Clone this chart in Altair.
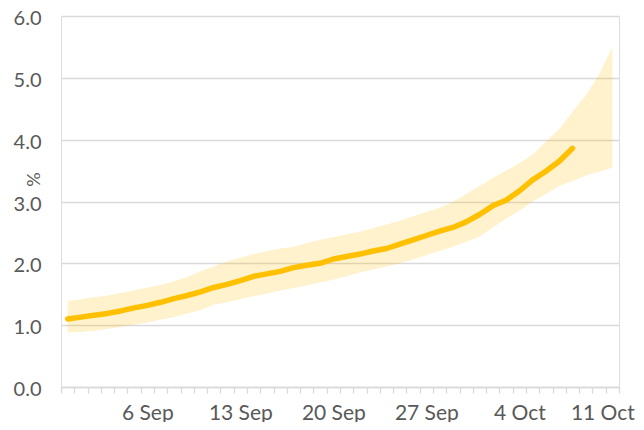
import altair as alt
import pandas as pd

start_day = "2020-08-31"

central = [1.10, 1.13, 1.16, 1.19, 1.23, 1.28, 1.32, 1.37, 1.43, 1.48,
           1.54, 1.61, 1.66, 1.72, 1.79, 1.83, 1.87, 1.93, 1.97, 2.00,
           2.07, 2.11, 2.15, 2.20, 2.24, 2.31, 2.38, 2.45, 2.52, 2.58,
           2.67, 2.79, 2.93, 3.02, 3.17, 3.35, 3.49, 3.65, 3.86]

upper = [1.39, 1.42, 1.45, 1.48, 1.52, 1.56, 1.61, 1.65, 1.71, 1.78,
         1.87, 1.95, 2.03, 2.09, 2.15, 2.20, 2.24, 2.27, 2.33, 2.38,
         2.42, 2.47, 2.51, 2.57, 2.63, 2.69, 2.76, 2.83, 2.90, 2.99,
         3.12, 3.25, 3.38, 3.50, 3.62, 3.76, 3.97, 4.17, 4.45, 4.72,
         5.05, 5.50]

lower = [0.88, 0.89, 0.91, 0.94, 0.97, 1.01, 1.04, 1.09, 1.13, 1.19,
         1.24, 1.33, 1.37, 1.42, 1.47, 1.51, 1.56, 1.60, 1.64, 1.69,
         1.74, 1.79, 1.85, 1.90, 1.95, 2.00, 2.06, 2.13, 2.20, 2.27,
         2.35, 2.43, 2.58, 2.72, 2.85, 3.00, 3.12, 3.25, 3.33, 3.42,
         3.48, 3.55]

label_days = ["2020-09-06", "2020-09-13", "2020-09-20",
              "2020-09-27", "2020-10-04", "2020-10-11"]
y_ticks = [0, 1, 2, 3, 4, 5, 6]


def ms(ts):
    t = pd.Timestamp(ts)
    if t.tzinfo is None:
        t = t.tz_localize("UTC")
    return int(t.value // 10**6)


dates = pd.date_range(start_day, periods=len(upper), freq="D", tz="UTC")
half = pd.Timedelta(hours=12)
boundaries = [ms(d - half) for d in dates] + [ms(dates[-1] + half)]
label_vals = [ms(d) for d in label_days]

band_df = pd.DataFrame({"t": [ms(d) for d in dates], "lo": lower, "hi": upper})
line_df = pd.DataFrame({"t": [ms(d) for d in dates[:len(central)]], "v": central})

GOLD = "#FFC000"
GRID = "#D9D9D9"
TXT = "#595959"

xscale = alt.Scale(type="utc", domain=[boundaries[0], boundaries[-1]])

band = alt.Chart(band_df).mark_area(color=GOLD, opacity=0.2).encode(
    x=alt.X("t:T", scale=xscale,
            axis=alt.Axis(orient="bottom", values=boundaries, labels=False,
                          ticks=True, tickSize=6, tickColor=GRID, tickWidth=1.3,
                          domain=True, domainColor=GRID, domainWidth=1.3,
                          grid=False, title=None)),
    y=alt.Y("lo:Q", scale=alt.Scale(domain=[0, 6], nice=False),
            axis=alt.Axis(values=y_ticks, format=".1f", grid=True,
                          gridColor=GRID, gridWidth=1.3, ticks=False,
                          domain=False, labelPadding=20, labelFontSize=20,
                          labelOffset=2.5,
                          labelColor=TXT, labelFont="Lato",
                          title="%", titleFontSize=18, titleColor=TXT,
                          titleFontWeight="normal", titleFont="Lato",
                          titleX=-27, titleY=163, titleAngle=270,
                          titleAlign="center", titleBaseline="middle")),
    y2="hi:Q",
)

line = alt.Chart(line_df).mark_line(color=GOLD, strokeWidth=5.5,
                                    strokeCap="round", strokeJoin="round").encode(
    x=alt.X("t:T", scale=xscale,
            axis=alt.Axis(orient="bottom", values=label_vals,
                          labelExpr="utcFormat(datum.value, '%-d %b')",
                          ticks=False, domain=False, grid=False,
                          labelPadding=15, labelFontSize=21, labelColor=TXT,
                          labelFont="Lato", labelFlush=8, labelFlushOffset=22,
                          title=None)),
    y=alt.Y("v:Q", scale=alt.Scale(domain=[0, 6], nice=False)),
)

chart = alt.layer(band, line).resolve_axis(x="independent").properties(
    width=558, height=371, autosize="none",
    padding={"left": 53, "top": 8, "right": 17, "bottom": 35},
).configure_view(strokeWidth=0).configure(font="Lato")

chart.save("out.html", embed_options={"renderer": "svg", "actions": False})
